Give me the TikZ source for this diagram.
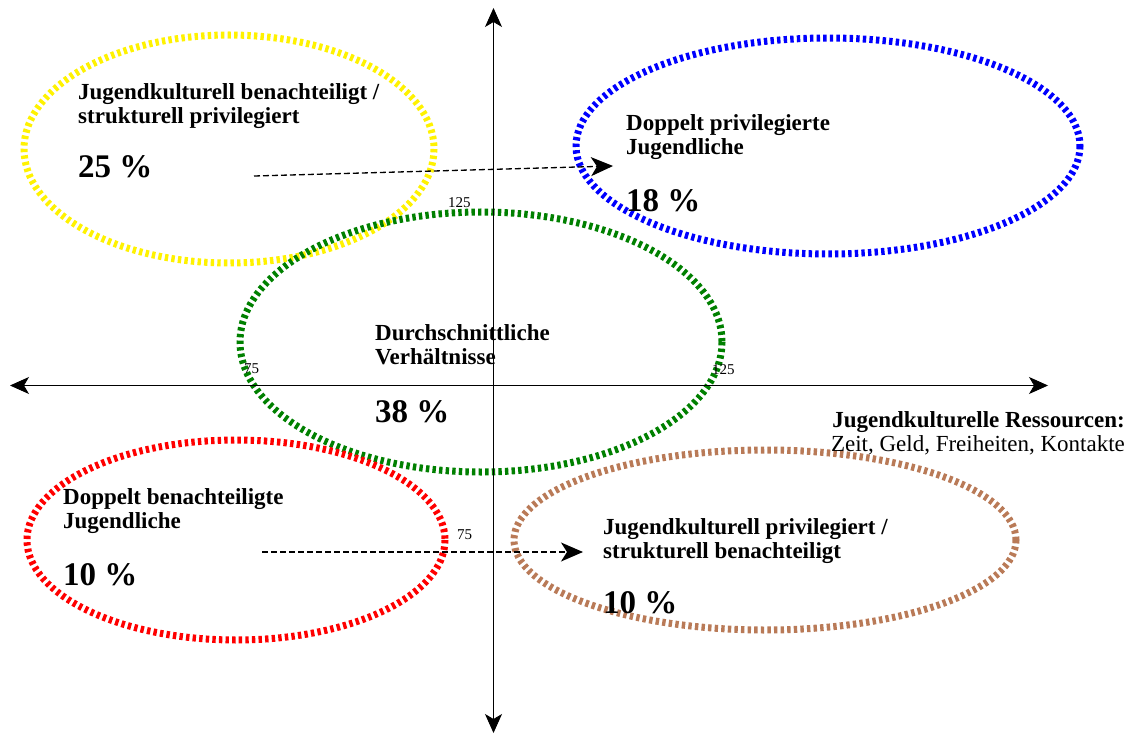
\documentclass[tikz,border=0pt]{standalone}
\usepackage{fontspec}
\setmainfont{Liberation Serif}
\usetikzlibrary{arrows.meta}

\definecolor{ringgreen}{RGB}{0,128,0}
\definecolor{ringbrown}{RGB}{185,122,87}

\begin{document}
\begin{tikzpicture}[x=1pt, y=-1pt,
  ring/.style={line width=7pt, dash pattern=on 3.4pt off 3.2pt},
  axis/.style={line width=0.9pt, {Stealth[length=19pt,width=17pt,inset=5pt]}-{Stealth[length=19pt,width=17pt,inset=5pt]}},
  move/.style={line width=1.3pt, dash pattern=on 6pt off 3pt, -{Stealth[length=22pt,width=19pt,inset=6pt]}},
  title/.style={anchor=north west, inner sep=0pt, align=left, font=\fontsize{23}{24.5}\selectfont\bfseries},
  share/.style={anchor=base west, inner sep=0pt, font=\fontsize{33}{33}\selectfont\bfseries},
  tick/.style={anchor=base west, inner sep=0pt, font=\fontsize{15}{15}\selectfont}]

\useasboundingbox (0,0) rectangle (1129,735);

% groups
\draw [ring, yellow] (229,149) ellipse [x radius=205, y radius=114];
\draw [ring, blue] (828,146) ellipse [x radius=252, y radius=108];
\draw [ring, ringgreen] (481,342) ellipse [x radius=241, y radius=130];
\draw [ring, red] (236,540) ellipse [x radius=209, y radius=100];
\draw [ring, ringbrown] (765,540) ellipse [x radius=251, y radius=90];

% axes
\coordinate (top) at (493.5,8);
\coordinate (bottom) at (493.5,733);
\coordinate (left) at (10,385.5);
\coordinate (right) at (1048,385.5);
\draw [axis] (bottom) -- (top);
\draw [axis] (left) -- (right);

\node [tick] (ytop) at (448,208) {125};
\node [tick] (xleft) at (244,373) {75};
\node [tick] (xright) at (712,374) {125};
\node [tick] (ybottom) at (457,539) {75};

% shifts
\coordinate (ua) at (254,176);
\coordinate (ub) at (613,166);
\coordinate (la) at (262,552);
\coordinate (lb) at (583,552);
\draw [move] (ua) -- (ub);
\draw [move] (la) -- (lb);

% texts
\node [title] (yt) at (78,83) {Jugendkulturell benachteiligt /\\strukturell privilegiert};
\node [share] (yp) at (78,178) {25 \%};

\node [title] (bt) at (626,114) {Doppelt privilegierte\\Jugendliche};
\node [share] (bp) at (626,212) {18 \%};

\node [title] (gt) at (375,324) {Durchschnittliche\\Verhältnisse};
\node [share] (gp) at (375,422) {38 \%};

\node [title] (rt) at (63,488) {Doppelt benachteiligte\\Jugendliche};
\node [share] (rp) at (63,585) {10 \%};

\node [title] (nt) at (603,518) {Jugendkulturell privilegiert /\\strukturell benachteiligt};
\node [share] (np) at (603,613) {10 \%};

\node [title, anchor=north east, align=right, font=\fontsize{23}{24.5}\selectfont] (res) at (1125,411) {\textbf{Jugendkulturelle Ressourcen:}\\Zeit, Geld, Freiheiten, Kontakte};

\end{tikzpicture}
\end{document}
